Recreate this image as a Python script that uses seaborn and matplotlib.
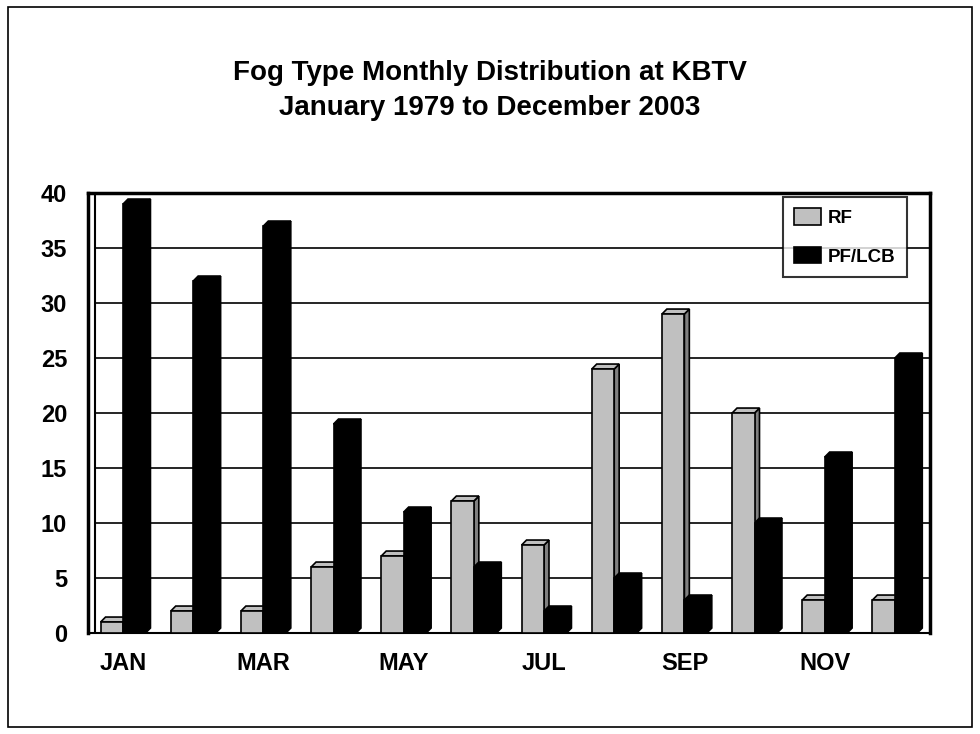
import matplotlib
matplotlib.use('Agg')
import matplotlib.pyplot as plt
from matplotlib.patches import Rectangle, Polygon
import numpy as np
import pandas as pd
import seaborn as sns

months = ['JAN', 'FEB', 'MAR', 'APR', 'MAY', 'JUN',
          'JUL', 'AUG', 'SEP', 'OCT', 'NOV', 'DEC']
rf = [1, 2, 2, 6, 7, 12, 8, 24, 29, 20, 3, 3]
pf_lcb = [39, 32, 37, 19, 11, 6, 2, 5, 3, 10, 16, 25]
series = ['RF', 'PF/LCB']
colors = ['#C0C0C0', '#000000']
side_colors = ['#808080', '#000000']

df = pd.DataFrame({'month': months * 2,
                   'count': rf + pf_lcb,
                   'type': ['RF'] * 12 + ['PF/LCB'] * 12})

sns.set_style('white')
plt.rcParams['font.family'] = ['Liberation Sans', 'DejaVu Sans']
plt.rcParams['font.weight'] = 'bold'
plt.rcParams['text.color'] = 'black'
plt.rcParams['xtick.color'] = 'black'
plt.rcParams['ytick.color'] = 'black'

fig = plt.figure(figsize=(9.8, 7.34), dpi=100)
ax = fig.add_axes([88 / 980, 101 / 734, 842 / 980, 440 / 734])

sns.barplot(data=df, x='month', y='count', hue='type', hue_order=series,
            order=months, palette=colors, width=0.64, gap=0,
            edgecolor='black', linewidth=1.2, saturation=1, ax=ax, zorder=3)

ax.set_xlim(-0.5, 11.5)
ax.set_ylim(0, 40)

# fake 3D top/side faces, taken from the bars seaborn drew
dx, dy = 0.07, 0.45
for cont, side in zip(ax.containers, side_colors):
    for p in cont.patches:
        x0, w, h = p.get_x(), p.get_width(), p.get_height()
        fc = p.get_facecolor()
        top = Polygon([(x0, h), (x0 + dx, h + dy), (x0 + w + dx, h + dy), (x0 + w, h)],
                      closed=True, facecolor=fc, edgecolor='black', lw=1.2, zorder=2.9)
        sidep = Polygon([(x0 + w, 0), (x0 + w + dx, dy), (x0 + w + dx, h + dy), (x0 + w, h)],
                        closed=True, facecolor=side, edgecolor='black', lw=1.2, zorder=2.8)
        ax.add_patch(top)
        ax.add_patch(sidep)

# grid and walls
for yv in range(5, 40, 5):
    ax.axhline(yv, xmin=0.008, color='black', lw=1.2, zorder=1)
ax.axvline(-0.4, color='black', lw=1.5, zorder=1)
for s in ['top', 'right', 'left']:
    ax.spines[s].set_linewidth(2.5)
ax.spines['bottom'].set_linewidth(1.5)
for s in ax.spines.values():
    s.set_color('black')

ax.set_yticks(range(0, 41, 5))
ax.set_xticks(range(0, 12, 2))
ax.set_xticklabels(months[::2])
ax.set_xticks(np.arange(-0.5, 12, 1), minor=True)
ax.tick_params(axis='x', which='major', length=0, pad=14, labelsize=17)
ax.tick_params(axis='x', which='minor', length=7, width=1.5, direction='out', color='black')
ax.tick_params(axis='y', length=8, width=1.5, direction='out', color='black', labelsize=17, pad=7)
ax.set_xlabel('')
ax.set_ylabel('')
for lab in ax.get_xticklabels() + ax.get_yticklabels():
    lab.set_fontweight('bold')

leg = ax.legend(loc='upper right', bbox_to_anchor=(0.9727, 0.991), fontsize=13.5,
                frameon=True, fancybox=False, handlelength=1.4, handleheight=1.0,
                handletextpad=0.4, borderpad=0.6, labelspacing=1.05, borderaxespad=0)
leg.get_frame().set_edgecolor('black')
leg.get_frame().set_linewidth(1.5)
for t in leg.get_texts():
    t.set_fontweight('bold')

fig.text(0.5, 0.877, 'Fog Type Monthly Distribution at KBTV\nJanuary 1979 to December 2003',
         ha='center', va='center', fontsize=20, fontweight='bold', linespacing=1.45)

fig.patches.append(Rectangle((8 / 980, 7 / 734), 964 / 980, 720 / 734,
                             transform=fig.transFigure, fill=False,
                             edgecolor='black', lw=1.2))

fig.savefig('out.png', dpi=100)
